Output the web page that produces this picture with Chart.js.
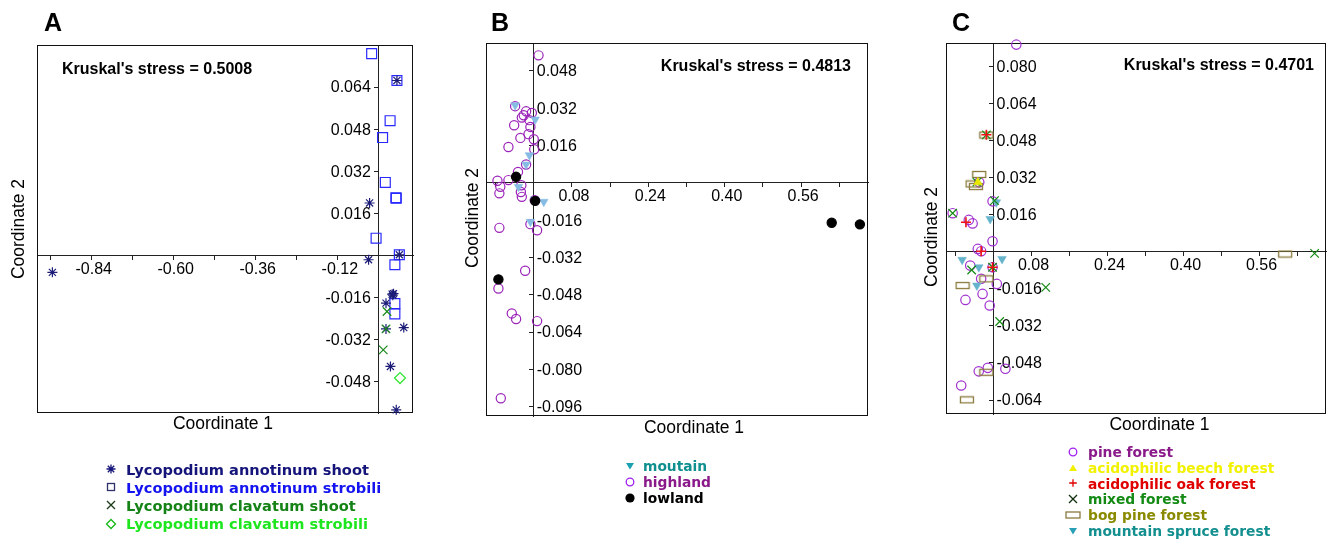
<!DOCTYPE html>
<html>
<head>
<meta charset="utf-8">
<title>NMDS ordination</title>
<script src="https://cdn.jsdelivr.net/npm/chart.js@4.4.1/dist/chart.umd.min.js"></script>
<style>
  body { margin: 0; background: #fff; width: 1328px; height: 539px; position: relative; overflow: hidden; }
  .panel { position: absolute; top: 0; }
  .legend { position: absolute; font-family: "DejaVu Sans", sans-serif; font-weight: bold; }
  .legend .row { display: flex; align-items: center; white-space: nowrap; }
  .legend svg { flex: none; }
</style>
</head>
<body>
<canvas id="chartA" class="panel" style="left:0px" width="440" height="539"></canvas>
<canvas id="chartB" class="panel" style="left:440px" width="450" height="539"></canvas>
<canvas id="chartC" class="panel" style="left:890px" width="448" height="539"></canvas>
<div id="legendA" class="legend" style="left:103px; top:460px; font-size:14.6px"></div>
<div id="legendB" class="legend" style="left:622px; top:458px; font-size:13.8px"></div>
<div id="legendC" class="legend" style="left:1065px; top:444px; font-size:13.8px"></div>

<script>
var fontMain = '"Liberation Sans", Arial, sans-serif';

// ---- panel A : Lycopodium samples ----
var aShootX = [-0.955, -0.027, -0.030, 0.053, 0.060, 0.039, 0.041, 0.043, 0.021, 0.021, 0.073, 0.034, 0.051];
var aShootY = [-0.0065, 0.0199, -0.0017, 0.0665, 0.0002, -0.0148, -0.0152, -0.0146, -0.0182, -0.028, -0.0275, -0.0423, -0.0588];
var aStrobX = [-0.021, 0.053, 0.033, 0.011, 0.019, 0.050, 0.051, -0.008, 0.060, 0.047, 0.047, 0.047];
var aStrobY = [0.0767, 0.0665, 0.0512, 0.0448, 0.0277, 0.0219, 0.0217, 0.0065, 0.0002, -0.0036, -0.0184, -0.0223];
var aClavShootX = [0.024, 0.021, 0.013];
var aClavShootY = [-0.0214, -0.028, -0.036];
var aClavStrobX = [0.062];
var aClavStrobY = [-0.0467];

// ---- panel B : altitude ----
var bMountX = [-0.039, 0.003, -0.009, -0.016, -0.032, 0.002, 0.021, -0.007];
var bMountY = [0.0333, 0.0272, 0.0119, 0.0079, -0.0017, -0.0071, -0.0081, -0.0167];
var bHighX = [0.010, -0.039, -0.016, -0.021, -0.004, -0.025, -0.009, -0.041, -0.007, -0.028, -0.011,
              0.000, -0.053, 0.001, -0.016, -0.033, -0.076, -0.053, -0.070, -0.072, -0.026, -0.027,
              -0.025, 0.002, -0.007, 0.007, -0.072, -0.018, -0.074, -0.046, -0.037, 0.007, -0.069];
var bHighY = [0.0547, 0.0329, 0.0307, 0.029, 0.030, 0.028, 0.0269, 0.0247, 0.024, 0.0193, 0.0209,
              0.0187, 0.0154, 0.0144, 0.0079, 0.0047, 0.0009, 0.0012, -0.0017, -0.0045, -0.001, -0.0039,
              -0.006, -0.0074, -0.0177, -0.0203, -0.0193, -0.0377, -0.0453, -0.056, -0.0584, -0.0593, -0.0924];
var bLowX = [-0.037, 0.003, -0.074, 0.624, 0.683];
var bLowY = [0.0026, -0.0077, -0.0414, -0.0171, -0.0178];

// ---- panel C : forest type ----
var cPineX = [0.048, -0.086, -0.052, -0.044, -0.002, -0.030, -0.002, -0.033, -0.026, -0.002,
              -0.049, -0.026, 0.007, -0.023, -0.059, -0.008, -0.031, -0.012, 0.025, -0.068];
var cPineY = [0.0893, 0.0166, 0.0137, 0.0122, 0.0217, 0.0299, 0.0045, 0.0012, 0.0002, -0.0067,
              -0.006, -0.0117, -0.0139, -0.0182, -0.0208, -0.0232, -0.0516, -0.0501, -0.0505, -0.0577];
var cBeechX = [-0.033];
var cBeechY = [0.0299];
var cOakX = [-0.015, -0.058, -0.026, -0.002];
var cOakY = [0.0504, 0.0127, 0.0002, -0.0067];
var cMixedX = [-0.015, -0.035, -0.086, 0.002, -0.046, -0.002, 0.110, 0.013, 0.676];
var cMixedY = [0.0504, 0.030, 0.0166, 0.022, -0.0079, -0.0067, -0.0154, -0.0301, -0.0007];
var cBogX = [-0.015, -0.030, -0.044, -0.037, -0.015, -0.065, -0.015, -0.056, 0.614];
var cBogY = [0.0503, 0.0333, 0.0292, 0.0281, -0.0117, -0.0146, -0.052, -0.0639, -0.001];
var cSpruceX = [0.006, -0.007, -0.066, -0.031, -0.035, 0.018];
var cSpruceY = [0.0213, 0.0141, -0.0035, -0.0067, -0.0146, -0.0031];

// ---- ticks ----
var xTicksA = [-0.96, -0.84, -0.72, -0.60, -0.48, -0.36, -0.24, -0.12];
var xLabelsA = [-0.84, -0.60, -0.36, -0.12];
var yTicksA = [-0.048, -0.032, -0.016, 0.016, 0.032, 0.048, 0.064];
var xTicksBC = [-0.08, 0.08, 0.16, 0.24, 0.32, 0.40, 0.48, 0.56, 0.64];
var xLabelsBC = [0.08, 0.24, 0.40, 0.56];
var yTicksB = [-0.096, -0.080, -0.064, -0.048, -0.032, -0.016, 0.016, 0.032, 0.048];
var yTicksC = [-0.064, -0.048, -0.032, -0.016, 0.016, 0.032, 0.048, 0.064, 0.080];

// ---- legends ----
var legendNamesA = ['Lycopodium annotinum shoot', 'Lycopodium annotinum strobili', 'Lycopodium clavatum shoot', 'Lycopodium clavatum strobili'];
var legendNamesB = ['moutain', 'highland', 'lowland'];
var legendNamesC = ['pine forest', 'acidophilic beech forest', 'acidophilic oak forest', 'mixed forest', 'bog pine forest', 'mountain spruce forest'];

function pts(xs, ys) {
  return xs.map(function(x, i) { return { x: x, y: ys[i] }; });
}

// small olive rectangle used as the bog pine marker
var bogMark = document.createElement('canvas');
bogMark.width = 16; bogMark.height = 9;
(function() {
  var g = bogMark.getContext('2d');
  g.strokeStyle = '#8a7a3c'; g.lineWidth = 1.3;
  g.strokeRect(1.5, 1.5, 13, 6);
})();

// box, tick labels, axis titles, stress text
var panelDecor = {
  id: 'panelDecor',
  beforeDatasetsDraw: function(chart, args, o) {
    var ctx = chart.ctx, a = chart.chartArea;
    var xs = chart.scales.x, ys = chart.scales.y;
    var x0 = xs.getPixelForValue(0), y0 = ys.getPixelForValue(0);
    ctx.save();
    ctx.strokeStyle = '#111';
    ctx.lineWidth = 1;
    ctx.strokeRect(a.left + 0.5, a.top + 0.5, a.right - a.left - 1, a.bottom - a.top - 1);

    ctx.fillStyle = '#000';
    ctx.font = '16px ' + fontMain;
    ctx.textBaseline = 'middle';
    ctx.textAlign = 'center';
    o.xLabels.forEach(function(v) {
      ctx.fillText(v.toFixed(2), xs.getPixelForValue(v) + 2, y0 + 14);
    });
    if (o.yLabelSide === 'left') {
      ctx.textAlign = 'right';
      o.yLabels.forEach(function(v) { ctx.fillText(v.toFixed(3), x0 - 8, ys.getPixelForValue(v) + 1); });
    } else {
      ctx.textAlign = 'left';
      o.yLabels.forEach(function(v) { ctx.fillText(v.toFixed(3), x0 + 3, ys.getPixelForValue(v) + 1); });
    }

    ctx.font = 'bold 16px ' + fontMain;
    ctx.textAlign = o.stressAlign;
    ctx.fillText(o.stress, o.stressPos[0], o.stressPos[1]);

    ctx.font = 'bold 25px ' + fontMain;
    ctx.textAlign = 'left';
    ctx.textBaseline = 'alphabetic';
    ctx.fillText(o.letter, o.letterPos[0], 31);

    ctx.font = '17.5px ' + fontMain;
    ctx.textAlign = 'center';
    ctx.textBaseline = 'middle';
    ctx.fillText('Coordinate 1', o.title1[0], o.title1[1]);
    ctx.translate(o.title2[0], o.title2[1]);
    ctx.rotate(-Math.PI / 2);
    ctx.fillText('Coordinate 2', 0, 0);
    ctx.restore();
  }
};

function axis(min, max, crossAt, ticks) {
  return {
    type: 'linear',
    min: min,
    max: max,
    position: crossAt,
    afterBuildTicks: function(scale) {
      scale.ticks = ticks.map(function(v) { return { value: v }; });
    },
    ticks: { display: false },
    grid: { drawOnChartArea: false, drawTicks: true, tickLength: 4, color: '#222' },
    border: { display: true, color: '#222', width: 1 }
  };
}

function makePanel(id, datasets, cfg) {
  return new Chart(document.getElementById(id), {
    type: 'scatter',
    data: { datasets: datasets },
    options: {
      responsive: false,
      animation: false,
      layout: { padding: cfg.padding },
      plugins: {
        legend: { display: false },
        tooltip: { enabled: false },
        panelDecor: cfg.decor
      },
      scales: {
        x: axis(cfg.xRange[0], cfg.xRange[1], { y: 0 }, cfg.xTicks),
        y: axis(cfg.yRange[0], cfg.yRange[1], { x: 0 }, cfg.yTicks)
      }
    },
    plugins: [panelDecor]
  });
}

function series(xs, ys, style) {
  var d = {
    data: pts(xs, ys),
    clip: false,
    pointStyle: style.shape,
    pointRadius: style.r,
    pointBorderColor: style.color,
    pointBackgroundColor: style.fill || 'rgba(0,0,0,0)',
    pointBorderWidth: style.w || 1.2,
    pointRotation: style.rot || 0
  };
  return d;
}

makePanel('chartA', [
  series(aClavStrobX, aClavStrobY, { shape: 'rectRot', r: 5.5, color: '#2ee62e' }),
  series(aClavShootX, aClavShootY, { shape: 'crossRot', r: 6, color: '#1a8a1a' }),
  series(aShootX, aShootY, { shape: 'star', r: 5, color: '#1c1c78' }),
  series(aStrobX, aStrobY, { shape: 'rect', r: 7, color: '#2a2aff' })
], {
  padding: { left: 37, top: 45, right: 27, bottom: 126 },
  xRange: [-1.0, 0.1], yRange: [-0.06, 0.08],
  xTicks: xTicksA, yTicks: yTicksA,
  decor: {
    xLabels: xLabelsA, yLabels: yTicksA, yLabelSide: 'left',
    stress: "Kruskal's stress = 0.5008", stressAlign: 'left', stressPos: [62, 70],
    letter: 'A', letterPos: [44],
    title1: [223, 424], title2: [19, 229]
  }
});

makePanel('chartB', [
  series(bLowX, bLowY, { shape: 'circle', r: 4.6, color: '#000', fill: '#000' }),
  series(bMountX, bMountY, { shape: 'triangle', r: 5, color: '#86bce4', fill: '#86bce4', rot: 180, w: 0.5 }),
  series(bHighX, bHighY, { shape: 'circle', r: 4.6, color: '#9a22b8' })
], {
  padding: { left: 46, top: 43, right: 22, bottom: 123 },
  xRange: [-0.1, 0.7], yRange: [-0.1, 0.06],
  xTicks: xTicksBC, yTicks: yTicksB,
  decor: {
    xLabels: xLabelsBC, yLabels: yTicksB, yLabelSide: 'right',
    stress: "Kruskal's stress = 0.4813", stressAlign: 'right', stressPos: [411, 67],
    letter: 'B', letterPos: [51],
    title1: [254, 428], title2: [33, 218]
  }
});

makePanel('chartC', [
  series(cOakX, cOakY, { shape: 'cross', r: 5, color: '#ee1111', w: 1.6 }),
  series(cBeechX, cBeechY, { shape: 'triangle', r: 5, color: '#e8e800', fill: '#e8e800', w: 0.5 }),
  series(cMixedX, cMixedY, { shape: 'crossRot', r: 6, color: '#138a13' }),
  series(cSpruceX, cSpruceY, { shape: 'triangle', r: 5, color: '#66b4cc', fill: '#66b4cc', rot: 180, w: 0.5 }),
  series(cBogX, cBogY, { shape: bogMark, r: 5, color: '#8a7a3c' }),
  series(cPineX, cPineY, { shape: 'circle', r: 4.7, color: '#a030d0' })
], {
  padding: { left: 56, top: 43, right: 12, bottom: 125 },
  xRange: [-0.1, 0.7], yRange: [-0.07, 0.09],
  xTicks: xTicksBC, yTicks: yTicksC,
  decor: {
    xLabels: xLabelsBC, yLabels: yTicksC, yLabelSide: 'right',
    stress: "Kruskal's stress = 0.4701", stressAlign: 'right', stressPos: [424, 66],
    letter: 'C', letterPos: [62],
    title1: [269.5, 425], title2: [42, 237]
  }
});

// ---- HTML legends ----
function symbolSvg(kind, color) {
  var s = '<svg width="16" height="12" viewBox="-8 -6 16 12">';
  var st = ' fill="none" stroke="' + color + '" stroke-width="1.3"';
  if (kind === 'star') s += '<path d="M-4.5 0H4.5M0 -4.5V4.5M-3.2 -3.2L3.2 3.2M-3.2 3.2L3.2 -3.2"' + st + '/>';
  if (kind === 'square') s += '<rect x="-3.5" y="-3.5" width="7" height="7"' + st + '/>';
  if (kind === 'x') s += '<path d="M-4 -4L4 4M-4 4L4 -4"' + st + '/>';
  if (kind === 'diamond') s += '<path d="M0 -4.5L4.5 0L0 4.5L-4.5 0Z"' + st + '/>';
  if (kind === 'triDown') s += '<path d="M-4 -3L4 -3L0 3.5Z" fill="' + color + '"/>';
  if (kind === 'triUp') s += '<path d="M-4 3L4 3L0 -3.5Z" fill="' + color + '"/>';
  if (kind === 'circle') s += '<circle r="3.8"' + st + '/>';
  if (kind === 'dot') s += '<circle r="4.6" fill="' + color + '"/>';
  if (kind === 'plus') s += '<path d="M-3.8 0H3.8M0 -3.8V3.8"' + st + '/>';
  if (kind === 'wideRect') s += '<rect x="-7" y="-3" width="14" height="6"' + st + '/>';
  return s + '</svg>';
}

function buildLegend(id, names, textColors, kinds, symColors, rowH, gap) {
  var box = document.getElementById(id);
  names.forEach(function(n, i) {
    var row = document.createElement('div');
    row.className = 'row';
    row.style.height = rowH + 'px';
    row.innerHTML = symbolSvg(kinds[i], symColors[i]) +
      '<span style="margin-left:' + gap + 'px; color:' + textColors[i] + '">' + n + '</span>';
    box.appendChild(row);
  });
}

buildLegend('legendA', legendNamesA,
  ['#14147a', '#1414f0', '#148214', '#1ee61e'],
  ['star', 'square', 'x', 'diamond'],
  ['#14147a', '#30306a', '#1a3a1a', '#14b814'], 18.2, 7);
buildLegend('legendB', legendNamesB,
  ['#108f8f', '#8a1a8a', '#000'],
  ['triDown', 'circle', 'dot'],
  ['#1aa0b0', '#a020f0', '#000'], 16, 5);
buildLegend('legendC', legendNamesC,
  ['#8a1a8a', '#f2f200', '#e00000', '#138a13', '#8a8a00', '#148f8f'],
  ['circle', 'triUp', 'plus', 'x', 'wideRect', 'triDown'],
  ['#a020f0', '#f0f000', '#e00000', '#103010', '#8a7a40', '#2aa0b8'], 15.8, 7);
</script>
</body>
</html>
